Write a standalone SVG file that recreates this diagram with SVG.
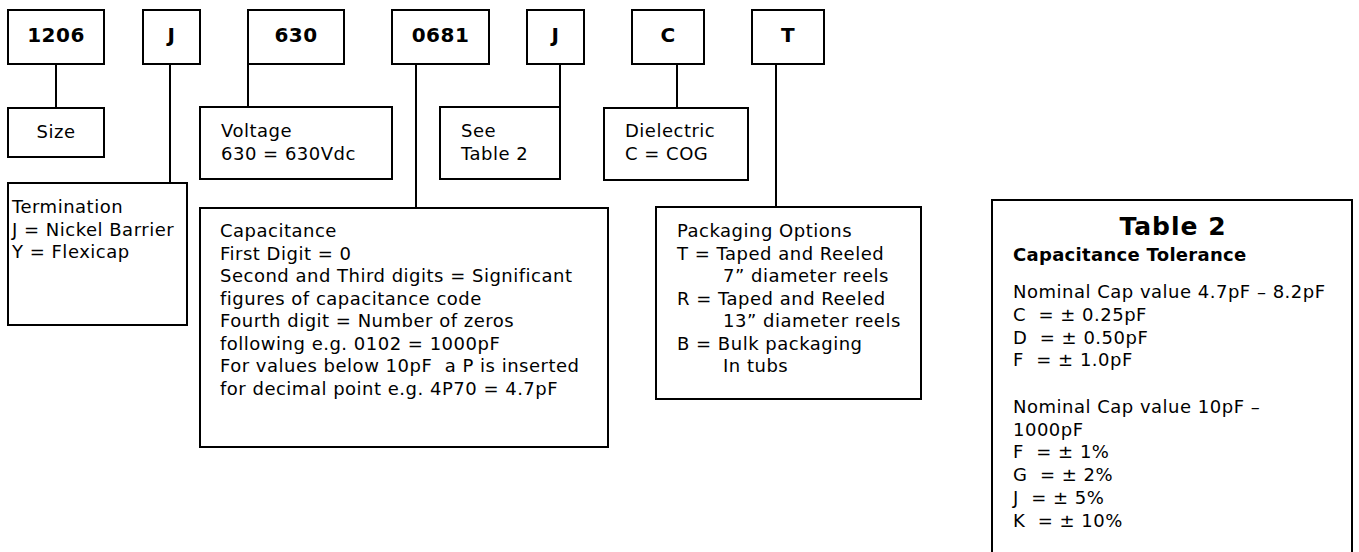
<svg xmlns="http://www.w3.org/2000/svg" width="1359" height="552" viewBox="0 0 1359 552">
<style>
.box{fill:#fff;stroke:#000;stroke-width:2}
.ln{stroke:#000;stroke-width:2;fill:none}
.code{font-family:"DejaVu Sans",Verdana,sans-serif;font-weight:bold;font-size:20px;text-anchor:middle;fill:#000;letter-spacing:0.5px}
.t{font-family:"DejaVu Sans",Verdana,sans-serif;font-size:18px;letter-spacing:0.5px;fill:#000}
.b{font-family:"DejaVu Sans",Verdana,sans-serif;font-weight:bold;fill:#000}
</style>
<rect width="1359" height="552" fill="#fff"/>
<g id="connectors">
<line class="ln" x1="56" y1="64" x2="56" y2="108"/>
<line class="ln" x1="170" y1="64" x2="170" y2="183"/>
<line class="ln" x1="248" y1="64" x2="248" y2="107"/>
<line class="ln" x1="416" y1="64" x2="416" y2="208"/>
<line class="ln" x1="560" y1="64" x2="560" y2="107"/>
<line class="ln" x1="677" y1="64" x2="677" y2="108"/>
<line class="ln" x1="776" y1="64" x2="776" y2="207"/>
</g>
<g id="n1206"><rect class="box" x="8" y="10" width="96" height="54"/><text class="code" x="56" y="42">1206</text></g>
<g id="nJ"><rect class="box" x="143" y="10" width="57" height="54"/><text class="code" x="171.5" y="42">J</text></g>
<g id="n630"><rect class="box" x="248" y="10" width="96" height="54"/><text class="code" x="296" y="42">630</text></g>
<g id="n0681"><rect class="box" x="392" y="10" width="97" height="54"/><text class="code" x="440.5" y="42">0681</text></g>
<g id="nJ2"><rect class="box" x="527" y="10" width="57" height="54"/><text class="code" x="555.5" y="42">J</text></g>
<g id="nC"><rect class="box" x="632" y="10" width="72" height="54"/><text class="code" x="668" y="42">C</text></g>
<g id="nT"><rect class="box" x="752" y="10" width="72" height="54"/><text class="code" x="788" y="42">T</text></g>

<g id="size"><rect class="box" x="8" y="108" width="96" height="49"/><text class="t" x="56" y="138" text-anchor="middle">Size</text></g>
<g id="termination"><rect class="box" x="8" y="183" width="179" height="142"/>
<text class="t" x="12" y="213">Termination</text>
<text class="t" x="12" y="236">J = Nickel Barrier</text>
<text class="t" x="12" y="258">Y = Flexicap</text></g>
<g id="voltage"><rect class="box" x="200" y="107" width="192" height="72"/>
<text class="t" x="221" y="137">Voltage</text>
<text class="t" x="221" y="160">630 = 630Vdc</text></g>
<g id="seetable"><rect class="box" x="440" y="107" width="120" height="72"/>
<text class="t" x="461" y="137">See</text>
<text class="t" x="461" y="160">Table 2</text></g>
<g id="dielectric"><rect class="box" x="604" y="108" width="144" height="72"/>
<text class="t" x="625" y="137">Dielectric</text>
<text class="t" x="625" y="160">C = COG</text></g>
<g id="capacitance"><rect class="box" x="200" y="208" width="408" height="239"/>
<text class="t" x="220" y="237">Capacitance</text>
<text class="t" x="220" y="259.5">First Digit = 0</text>
<text class="t" x="220" y="282">Second and Third digits = Significant</text>
<text class="t" x="220" y="304.5">figures of capacitance code</text>
<text class="t" x="220" y="327">Fourth digit = Number of zeros</text>
<text class="t" x="220" y="349.5">following e.g. 0102 = 1000pF</text>
<text class="t" x="220" y="372" xml:space="preserve">For values below 10pF  a P is inserted</text>
<text class="t" x="220" y="394.5">for decimal point e.g. 4P70 = 4.7pF</text></g>
<g id="packaging"><rect class="box" x="656" y="207" width="265" height="192"/>
<text class="t" x="677" y="237">Packaging Options</text>
<text class="t" x="677" y="259.5">T = Taped and Reeled</text>
<text class="t" x="723" y="282">7” diameter reels</text>
<text class="t" x="677" y="304.5">R = Taped and Reeled</text>
<text class="t" x="723" y="327">13” diameter reels</text>
<text class="t" x="677" y="349.5">B = Bulk packaging</text>
<text class="t" x="723" y="372">In tubs</text></g>
<g id="table2"><rect class="box" x="992" y="200" width="360" height="362"/>
<text class="b" x="1173" y="235" font-size="25" letter-spacing="1" text-anchor="middle">Table 2</text>
<text class="b" x="1013" y="261" font-size="18" letter-spacing="0.3">Capacitance Tolerance</text>
<text class="t" x="1013" y="298">Nominal Cap value 4.7pF – 8.2pF</text>
<text class="t" x="1013" y="321" xml:space="preserve">C  = ± 0.25pF</text>
<text class="t" x="1013" y="344" xml:space="preserve">D  = ± 0.50pF</text>
<text class="t" x="1013" y="366" xml:space="preserve">F  = ± 1.0pF</text>
<text class="t" x="1013" y="413">Nominal Cap value 10pF –</text>
<text class="t" x="1013" y="436">1000pF</text>
<text class="t" x="1013" y="458" xml:space="preserve">F  = ± 1%</text>
<text class="t" x="1013" y="481" xml:space="preserve">G  = ± 2%</text>
<text class="t" x="1013" y="504" xml:space="preserve">J  = ± 5%</text>
<text class="t" x="1013" y="527" xml:space="preserve">K  = ± 10%</text></g>
</svg>
